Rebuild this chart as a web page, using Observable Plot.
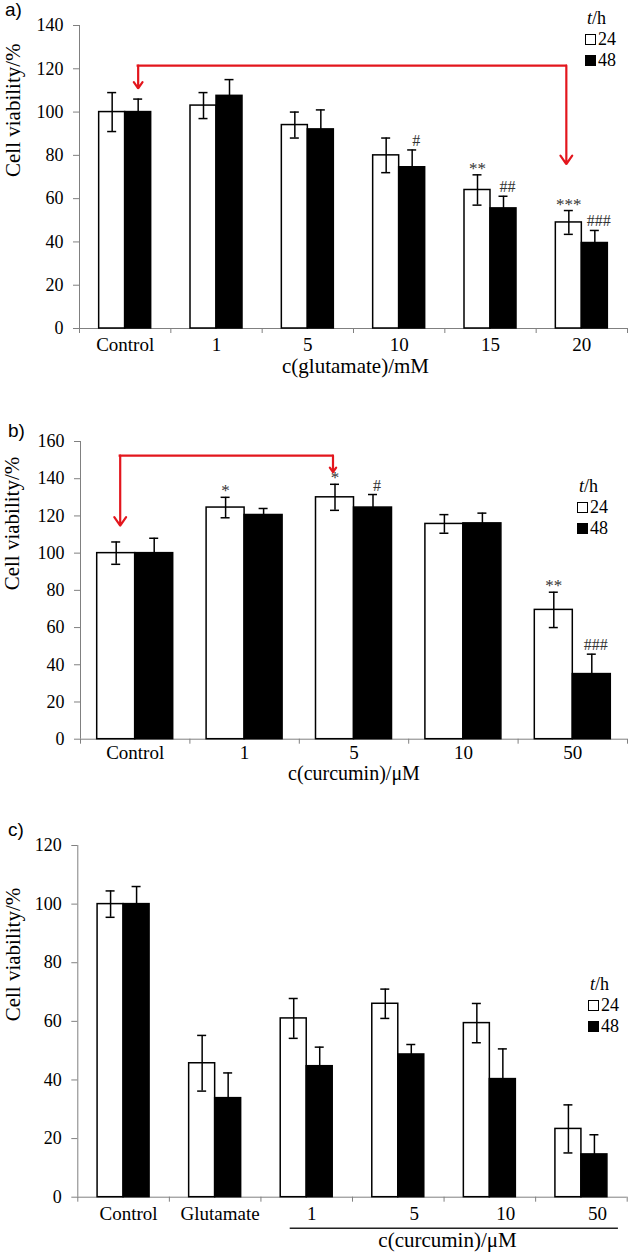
<!DOCTYPE html>
<html>
<head>
<meta charset="utf-8">
<script src="https://cdn.jsdelivr.net/npm/d3@7"></script>
<script src="https://cdn.jsdelivr.net/npm/@observablehq/plot@0.6"></script>
<style>
  body { margin: 0; background: #fff; }
  #root { position: relative; width: 630px; height: 1257px; overflow: hidden; font-family: "Liberation Serif", "Times New Roman", serif; color: #000; }
  .panel { position: absolute; left: 0; }
  .plabel { position: absolute; font-family: "Liberation Sans", Arial, sans-serif; font-size: 19px; line-height: 20px; }
  .leg { position: absolute; font-size: 18px; line-height: 21px; white-space: nowrap; }
  .leg .ttl { padding-left: 2px; }
  .leg .row { display: flex; align-items: center; }
  .leg .box { display: inline-block; width: 9px; height: 9px; border: 1px solid #000; margin-right: 2px; }
</style>
</head>
<body>
<div id="root"></div>
<script>
// ---------- shared ----------
const series = ["24", "48"];
const legendTitle = ["t", "/h"];
const yLabel = "Cell viability/%";

// ---------- panel a ----------
const aCats = ["Control", "1", "5", "10", "15", "20"];
const a24 = [100, 103, 94, 80, 64, 49];
const a24err = [9, 6, 6, 8, 7, 5.5];
const a48 = [100, 107.5, 92, 74.5, 55.5, 39.5];
const a48err = [6, 7.5, 9, 8, 5.6, 5.8];
const a24sig = ["", "", "", "", "**", "***"];
const a48sig = ["", "", "", "#", "##", "###"];
const aYTicks = [0, 20, 40, 60, 80, 100, 120, 140];
const aXLabel = "c(glutamate)/mM";
const aArrowCats = ["Control", "20"];
const aArrowTop = 121.5;
const aArrowTips = [111, 76];

// ---------- panel b ----------
const bCats = ["Control", "1", "5", "10", "50"];
const b24 = [100, 124.5, 130, 115.7, 69.5];
const b24err = [6, 5.5, 7, 5, 9.5];
const b48 = [100, 120.5, 124.5, 116, 35];
const b48err = [8, 3.5, 7, 5.5, 10.7];
const b24sig = ["", "*", "*", "", "**"];
const b48sig = ["", "", "#", "", "###"];
const bYTicks = [0, 20, 40, 60, 80, 100, 120, 140, 160];
const bXLabel = "c(curcumin)/\u03bcM";
const bArrowCats = ["Control", "5"];
const bArrowTop = 152.4;
const bArrowTips = [114.8, 143.5];

// ---------- panel c ----------
const cCats = ["Control", "Glutamate", "1", "5", "10", "50"];
const c24 = [100, 45.7, 61, 66, 59.4, 23.3];
const c24err = [4.5, 9.5, 6.8, 5, 6.7, 8.2];
const c48 = [100, 33.8, 44.7, 48.7, 40.3, 14.6];
const c48err = [6, 8.6, 6.5, 3.4, 10.3, 6.7];
const cYTicks = [0, 20, 40, 60, 80, 100, 120];
const cXLabel = "c(curcumin)/\u03bcM";
const cBracketCats = ["1", "50"];

const RED = "#e3161d";
const AXIS = "#808080";

function makePanel(p) {
  const W = 630;
  const n = p.cats.length;
  const bw = (W - p.ml - p.mr) / n;
  const bar = p.barW;
  const cap = 9;
  const rows24 = p.cats.map((c, i) => ({cat: c, v: p.v24[i], e: p.e24[i], sig: p.s24 ? p.s24[i] : ""}));
  const rows48 = p.cats.map((c, i) => ({cat: c, v: p.v48[i], e: p.e48[i], sig: p.s48 ? p.s48[i] : ""}));

  const errMarks = (rows, dx) => [
    Plot.ruleX(rows, {x: "cat", y1: d => d.v - d.e, y2: d => d.v + d.e, dx, stroke: "#000", strokeWidth: 1.5}),
    Plot.tickY(rows, {x: "cat", y: d => d.v + d.e, insetLeft: bw / 2 + dx - cap / 2, insetRight: bw / 2 - dx - cap / 2, stroke: "#000", strokeWidth: 1.5}),
    Plot.tickY(rows, {x: "cat", y: d => d.v - d.e, insetLeft: bw / 2 + dx - cap / 2, insetRight: bw / 2 - dx - cap / 2, stroke: "#000", strokeWidth: 1.5})
  ];

  const marks = [
    // axes lines
    Plot.ruleY([0], {stroke: AXIS, strokeWidth: 1}),
    Plot.ruleX([p.cats[0]], {x: d => d, dx: -bw / 2, stroke: AXIS, strokeWidth: 1}),
    Plot.ruleX(p.cats, {x: d => d, dx: -bw / 2, y1: 0, y2: 0, insetBottom: -5, stroke: AXIS}),
    Plot.ruleX([p.cats[n - 1]], {x: d => d, dx: bw / 2, y1: 0, y2: 0, insetBottom: -5, stroke: AXIS}),
    Plot.axisY({ticks: p.yTicks, tickSize: 6, tickFormat: () => "", color: AXIS, label: null}),
    Plot.axisY({ticks: p.yTicks, tickSize: 0, tickPadding: 16, fontSize: 18, color: "#000", label: null}),
    // bars
    Plot.barY(rows24, {x: "cat", y: "v", fill: "#fff", stroke: "#000", strokeWidth: 1.5, insetLeft: bw / 2 - bar, insetRight: bw / 2}),
    Plot.barY(rows48, {x: "cat", y: "v", fill: "#000", stroke: "#000", strokeWidth: 1.5, insetLeft: bw / 2, insetRight: bw / 2 - bar}),
    ...errMarks(rows24, -bar / 2),
    ...errMarks(rows48, bar / 2),
    // significance marks
    Plot.text(rows24.filter(d => d.sig), {x: "cat", y: d => d.v + d.e, text: "sig", dx: -bar / 2, dy: -1, lineAnchor: "bottom", fontSize: 17, fill: "#333"}),
    Plot.text(rows48.filter(d => d.sig), {x: "cat", y: d => d.v + d.e, text: "sig", dx: bar / 2 + 4, dy: -4, lineAnchor: "bottom", fontSize: 16, fill: "#333"}),
    // y label
    Plot.text([yLabel], {text: d => d, frameAnchor: "left", rotate: -90, dx: p.yLabelDx, fontSize: 21}),
    // x label
    Plot.text([p.xLabel], {text: d => d, frameAnchor: "bottom", dx: p.xLabelDx, dy: p.xLabelDy, fontSize: p.xLabelSize || 21})
  ];

  if (p.tickGroups) {
    for (const g of p.tickGroups) {
      marks.push(Plot.axisX({ticks: g.ticks, tickSize: 0, tickPadding: p.tickPad, dx: g.dx, fontSize: 19, color: "#000", label: null}));
    }
  } else {
    marks.push(Plot.axisX({tickSize: 0, tickPadding: p.tickPad, fontSize: 19, color: "#000", label: null}));
  }

  if (p.arrowCats) {
    const [c1, c2] = p.arrowCats;
    const [d1, d2] = p.arrowDx;
    const [t1, t2] = p.arrowTips;
    const top = p.arrowTop;
    marks.push(
      Plot.ruleY([top], {x1: () => c1, x2: () => c2, insetLeft: bw / 2 + d1, insetRight: bw / 2 - d2, stroke: RED, strokeWidth: 2.2, strokeLinecap: "square"}),
      Plot.arrow([{c: c1, t: t1}], {x1: "c", x2: "c", y1: () => top, y2: "t", dx: d1, stroke: RED, strokeWidth: 2.2, headLength: 7, headAngle: 70}),
      Plot.arrow([{c: c2, t: t2}], {x1: "c", x2: "c", y1: () => top, y2: "t", dx: d2, stroke: RED, strokeWidth: 2.2, headLength: 7, headAngle: 70})
    );
  }

  if (p.bracketCats) {
    const [c1, c2] = p.bracketCats;
    const [d1, d2] = p.bracketDx;
    marks.push(Plot.ruleY([0], {x1: () => c1, x2: () => c2, dy: p.bracketDy, insetLeft: bw / 2 + d1, insetRight: bw / 2 - d2, stroke: "#222", strokeWidth: 1.5}));
  }

  const svg = Plot.plot({
    width: W,
    height: p.height,
    marginTop: p.mt,
    marginBottom: p.mb,
    marginLeft: p.ml,
    marginRight: p.mr,
    x: {domain: p.cats, padding: 0, round: false, label: null},
    y: {domain: p.yDomain, label: null},
    style: {fontFamily: "'Liberation Serif', 'Times New Roman', serif", background: "transparent", color: "#000", overflow: "visible"},
    marks
  });
  return svg;
}

function addPanel(root, top, svg, label, labelPos, legPos) {
  const div = document.createElement("div");
  div.className = "panel";
  div.style.top = top + "px";
  div.appendChild(svg);
  root.appendChild(div);

  const pl = document.createElement("div");
  pl.className = "plabel";
  pl.style.left = labelPos[0] + "px";
  pl.style.top = labelPos[1] + "px";
  pl.textContent = label;
  root.appendChild(pl);

  const leg = document.createElement("div");
  leg.className = "leg";
  leg.style.left = legPos[0] + "px";
  leg.style.top = legPos[1] + "px";
  const ttl = document.createElement("div");
  ttl.className = "ttl";
  const it = document.createElement("i");
  it.textContent = legendTitle[0];
  ttl.appendChild(it);
  ttl.appendChild(document.createTextNode(legendTitle[1]));
  leg.appendChild(ttl);
  series.forEach((s, i) => {
    const row = document.createElement("div");
    row.className = "row";
    const b = document.createElement("span");
    b.className = "box";
    b.style.background = i === 0 ? "#fff" : "#000";
    row.appendChild(b);
    row.appendChild(document.createTextNode(s));
    leg.appendChild(row);
  });
  root.appendChild(leg);
}

const root = document.getElementById("root");

addPanel(root, 0, makePanel({
  cats: aCats, v24: a24, e24: a24err, v48: a48, e48: a48err, s24: a24sig, s48: a48sig,
  yDomain: [0, 140], yTicks: aYTicks, xLabel: aXLabel,
  height: 385, mt: 25, mb: 57, ml: 79, mr: 3, barW: 26, tickPad: 9,
  yLabelDx: -66, xLabelDx: 2, xLabelDy: 44,
  arrowCats: aArrowCats, arrowDx: [13, -15.5], arrowTop: aArrowTop, arrowTips: aArrowTips
}), "a)", [5, 0], [585, 8]);

addPanel(root, 390, makePanel({
  cats: bCats, v24: b24, e24: b24err, v48: b48, e48: b48err, s24: b24sig, s48: b48sig,
  yDomain: [0, 160], yTicks: bYTicks, xLabel: bXLabel,
  height: 400, mt: 51, mb: 51.3, ml: 80, mr: 3, barW: 38, tickPad: 6,
  yLabelDx: -68, xLabelDx: 0, xLabelDy: 41, xLabelSize: 20,
  arrowCats: bArrowCats, arrowDx: [-15, -21], arrowTop: bArrowTop, arrowTips: bArrowTips
}), "b)", [8, 421], [577, 476]);

addPanel(root, 792, makePanel({
  cats: cCats, v24: c24, e24: c24err, v48: c48, e48: c48err,
  yDomain: [0, 120], yTicks: cYTicks, xLabel: cXLabel,
  height: 465, mt: 53, mb: 60.3, ml: 77.3, mr: 3.3, barW: 26, tickPad: 9,
  yLabelDx: -65, xLabelDx: 95, xLabelDy: 50,
  tickGroups: [{ticks: ["Control", "Glutamate", "1"], dx: 5}, {ticks: ["5", "10", "50"], dx: 16}],
  bracketCats: cBracketCats, bracketDx: [-16.5, 37], bracketDy: 31
}), "c)", [8, 820], [588, 974]);
</script>
</body>
</html>
